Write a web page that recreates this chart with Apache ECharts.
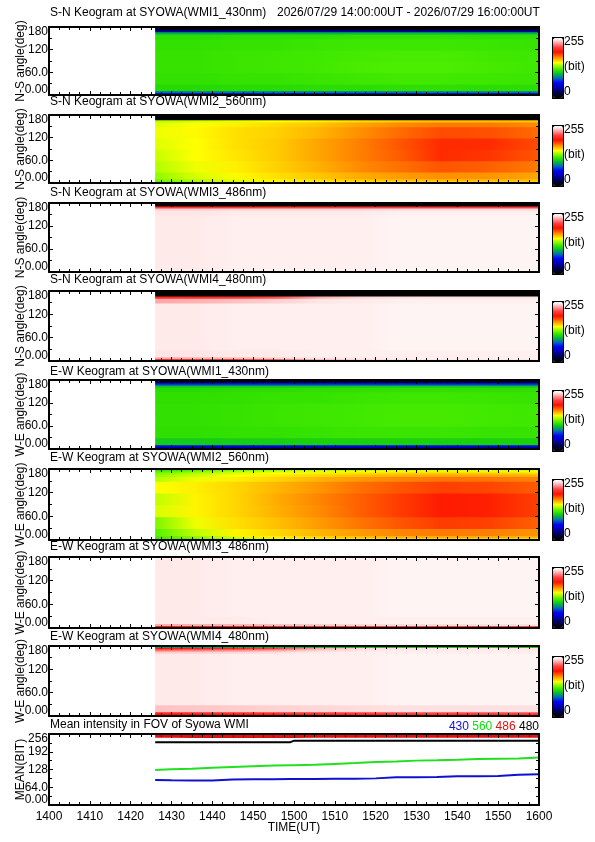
<!DOCTYPE html>
<html><head><meta charset="utf-8">
<script src="https://cdn.jsdelivr.net/npm/echarts@6/dist/echarts.min.js"></script>
<style>html,body{margin:0;padding:0;background:#fff}#c{width:595px;height:842px}</style>
</head><body><div id="c"></div>
<script>
// ---------- tick labels ----------
const xTickLabels = ['1400','1410','1420','1430','1440','1450','1500','1510','1520','1530','1540','1550','1600'];
const angleTickLabels = ['0.00','60.0','120','180'];
const meanTickLabels = ['0.00','64.0','128','192','256'];

// ---------- keogram sampling (minutes after 14:00 UT, angle band edges in deg) ----------
const timeSamples = [26, 36, 46, 56, 66, 76, 86, 96, 108, 120];
const angleEdges = [0, 3, 7, 12, 30, 60, 90, 120, 150, 162, 168, 173, 177, 180];

// each row = one angle band (bottom to top), values (bit) at timeSamples
const keoSN430 = [
  [28,28,28,28,28,28,28,28,28,28],
  [50,50,50,50,50,50,50,50,50,50],
  [85,85,86,86,86,86,86,86,86,86],
  [113,113,114,114,115,115,116,116,115,115],
  [117,117,118,118,119,120,121,121,120,119],
  [118,118,119,120,121,123,124,124,122,120],
  [118,118,119,120,121,122,123,123,121,120],
  [117,117,118,118,119,120,120,120,119,118],
  [115,115,116,116,116,117,117,117,116,116],
  [100,100,101,101,101,102,102,102,101,101],
  [45,45,45,45,45,45,45,45,45,45],
  [8,8,8,8,8,8,8,8,8,8],
  [0,0,0,0,0,0,0,0,0,0]
];
const keoSN560 = [
  [118,128,138,143,146,148,150,150,150,150],
  [125,135,143,148,152,155,156,157,158,157],
  [130,140,147,152,156,160,162,163,163,162],
  [135,145,151,156,161,166,169,171,170,167],
  [140,148,153,159,165,172,177,182,180,175],
  [143,150,155,160,167,174,181,190,188,182],
  [146,150,156,160,167,174,182,190,190,184],
  [148,151,156,159,164,171,178,184,183,178],
  [146,150,153,157,161,167,172,175,175,172],
  [140,144,147,150,153,157,160,162,162,161],
  [0,0,0,0,0,0,0,0,0,0],
  [0,0,0,0,0,0,0,0,0,0],
  [0,0,0,0,0,0,0,0,0,0]
];
const keoSN486 = [
  [248,248,249,249,249,249,250,250,250,250],
  [248,248,249,249,249,249,250,250,250,250],
  [248,248,249,249,249,249,250,250,250,250],
  [248,248,249,249,249,249,250,250,250,250],
  [248,248,249,249,249,249,250,250,250,250],
  [248,248,249,249,249,249,250,250,250,250],
  [248,248,249,249,249,249,250,250,250,250],
  [248,248,249,249,249,249,250,250,250,250],
  [247,247,248,248,248,248,249,249,249,249],
  [243,243,244,244,244,244,245,245,245,245],
  [212,212,212,213,213,214,214,214,214,214],
  [0,0,0,0,0,0,0,0,0,0],
  [0,0,0,0,0,0,0,0,0,0]
];
const keoSN480 = [
  [5,5,5,5,5,5,5,5,5,5],
  [210,212,215,222,238,245,247,248,248,248],
  [236,237,240,244,247,248,249,249,249,249],
  [247,247,248,248,249,249,249,249,249,249],
  [248,248,249,249,249,249,250,250,250,250],
  [248,248,249,249,249,249,250,250,250,250],
  [248,248,249,249,249,249,250,250,250,250],
  [248,248,249,249,249,249,250,250,250,250],
  [235,237,240,243,247,248,249,249,249,249],
  [205,207,210,218,236,244,246,247,247,247],
  [0,0,0,0,0,0,0,0,0,0],
  [0,0,0,0,0,0,0,0,0,0],
  [0,0,0,0,0,0,0,0,0,0]
];
const keoEW430 = [
  [25,25,25,25,25,25,25,25,25,25],
  [40,40,40,40,40,40,40,40,40,40],
  [62,62,62,62,62,62,62,62,62,62],
  [108,108,109,109,110,110,110,110,110,110],
  [116,116,117,117,118,119,119,119,118,118],
  [117,117,118,119,120,121,122,122,121,120],
  [117,117,118,119,120,121,122,122,121,120],
  [116,116,117,118,118,119,120,120,119,118],
  [114,114,115,115,116,116,117,117,116,116],
  [106,106,107,107,107,108,108,108,107,107],
  [75,75,75,75,75,75,75,75,75,75],
  [30,30,30,30,30,30,30,30,30,30],
  [10,10,10,10,10,10,10,10,10,10]
];
const keoEW560 = [
  [115,125,135,140,143,146,148,148,148,147],
  [118,130,140,147,152,155,157,158,158,156],
  [122,135,146,153,158,162,165,166,166,164],
  [126,142,152,158,164,169,173,175,174,170],
  [132,148,156,162,169,176,182,187,186,180],
  [145,152,158,165,172,180,187,193,192,186],
  [142,152,158,166,173,180,187,193,192,186],
  [150,153,158,164,170,177,182,186,185,181],
  [140,148,153,158,164,169,173,176,176,173],
  [136,144,150,154,158,162,165,167,167,165],
  [132,140,146,150,153,156,159,160,160,158],
  [125,133,140,144,147,149,151,152,152,150],
  [118,126,133,137,140,142,144,145,145,143]
];
const keoEW486 = [
  [140,140,141,142,142,143,143,143,143,143],
  [200,202,204,207,210,212,214,215,216,216],
  [236,237,238,240,242,244,245,245,246,246],
  [248,248,248,249,249,249,249,249,249,249],
  [248,248,249,249,249,249,250,250,250,250],
  [248,248,249,249,249,249,250,250,250,250],
  [248,248,249,249,249,249,250,250,250,250],
  [248,248,249,249,249,249,250,250,250,250],
  [248,248,249,249,249,249,250,250,250,250],
  [248,248,249,249,249,249,250,250,250,250],
  [248,248,249,249,249,249,250,250,250,250],
  [248,248,249,249,249,249,250,250,250,250],
  [248,248,249,249,249,249,250,250,250,250]
];
const keoEW480 = [
  [112,112,112,112,112,112,112,112,112,112],
  [195,196,198,200,202,204,205,206,206,206],
  [205,207,209,211,213,215,216,217,217,217],
  [240,241,242,243,244,245,246,246,246,246],
  [248,248,249,249,249,249,250,250,250,250],
  [248,248,249,249,249,249,250,250,250,250],
  [248,248,249,249,249,249,250,250,250,250],
  [248,248,249,249,249,249,250,250,250,250],
  [248,248,249,249,249,249,250,250,250,250],
  [242,243,244,246,248,249,249,249,249,249],
  [225,227,230,235,243,247,248,248,248,248],
  [200,202,206,215,235,244,246,247,247,247],
  [95,97,100,103,105,108,110,110,110,110]
];

// ---------- mean intensity in FOV ----------
const meanTimes = [26, 30, 35, 40, 45, 50, 55, 59, 60, 65, 70, 75, 80, 85, 90, 95, 100, 105, 110, 115, 120];
const mean430 = [90, 89, 88, 88, 92, 93, 93, 94, 94, 94, 95, 95, 96, 100, 100, 101, 104, 104, 105, 109, 111];
const mean560 = [126, 129, 131, 134, 137, 140, 142, 143, 143, 145, 148, 151, 155, 157, 160, 161, 163, 166, 167, 168, 171];
const mean486 = [248, 248, 247, 247, 247, 247, 247, 247, 247, 248, 248, 248, 248, 248, 248, 248, 248, 248, 248, 248, 248];
const mean480 = [226, 226, 226, 226, 226, 226, 226, 226, 232, 232, 232, 232, 232, 232, 232, 232, 232, 232, 232, 232, 232];

const panelTitles = [
  'S-N Keogram at SYOWA(WMI1_430nm)','S-N Keogram at SYOWA(WMI2_560nm)',
  'S-N Keogram at SYOWA(WMI3_486nm)','S-N Keogram at SYOWA(WMI4_480nm)',
  'E-W Keogram at SYOWA(WMI1_430nm)','E-W Keogram at SYOWA(WMI2_560nm)',
  'E-W Keogram at SYOWA(WMI3_486nm)','E-W Keogram at SYOWA(WMI4_480nm)',
  'Mean intensity in FOV of Syowa WMI'
];
const yNames = ['N-S angle(deg)','N-S angle(deg)','N-S angle(deg)','N-S angle(deg)',
  'W-E angle(deg)','W-E angle(deg)','W-E angle(deg)','W-E angle(deg)','MEAN(BIT)'];
const dateRange = '2026/07/29 14:00:00UT - 2026/07/29 16:00:00UT';

// ---------- layout ----------
const panelTop = [27, 115, 203, 291, 380, 469, 557, 646, 734];
const panelH = [68, 68, 69, 70, 69, 71, 71, 70, 71];
const titleY = [13, 102, 193, 280, 372, 458, 547, 637, 725];
const FONT = "'Liberation Sans', Arial, sans-serif";

// ---------- colour table (0..255 bit) ----------
const cmapStops = [[0,'#000000'],[20,'#000040'],[45,'#0000b0'],[65,'#0000ff'],[85,'#0070b0'],
  [100,'#00b050'],[112,'#20d800'],[125,'#50f000'],[140,'#b0ff00'],[150,'#ffff00'],[165,'#ffb000'],
  [180,'#ff6000'],[195,'#ff1000'],[215,'#ff4040'],[235,'#ffa8a8'],[250,'#fff4f4'],[255,'#ffffff']];
function hex(c){return [parseInt(c.substr(1,2),16),parseInt(c.substr(3,2),16),parseInt(c.substr(5,2),16)];}
function colorAt(v){
  v = Math.max(0, Math.min(255, v));
  for (let k=0;k<cmapStops.length-1;k++){
    const a=cmapStops[k], b=cmapStops[k+1];
    if (v<=b[0]){
      const f=(v-a[0])/(b[0]-a[0]); const ca=hex(a[1]), cb=hex(b[1]);
      return 'rgb('+[0,1,2].map(j=>Math.round(ca[j]+(cb[j]-ca[j])*f)).join(',')+')';
    }
  }
  return '#ffffff';
}
const cmapColors = []; for (let v=0; v<=255; v+=5) cmapColors.push(colorAt(v));

const keograms = [keoSN430, keoSN560, keoSN486, keoSN480, keoEW430, keoEW560, keoEW486, keoEW480];

function renderBand(params, api){
  const a0 = api.value(0), a1 = api.value(1);
  const t0 = timeSamples[0], tN = timeSamples[timeSamples.length-1];
  const pTop = api.coord([t0, a1]);
  const pBot = api.coord([tN, a0]);
  const stops = timeSamples.map((t,k)=>({offset:(t-t0)/(tN-t0), color: colorAt(api.value(2+k))}));
  return {type:'rect', silent:true,
    shape:{x:pTop[0], y:pTop[1], width:pBot[0]-pTop[0], height:(pBot[1]-pTop[1])+0.8},
    style:{fill:new echarts.graphic.LinearGradient(0,0,1,0,stops)}};
}

const grids=[], xAxes=[], yAxes=[], series=[], visualMaps=[], titles=[], graphics=[];
const axisLine = {show:true, onZero:false, lineStyle:{color:'#000', width:2}};
const tick = {show:true, inside:true, length:4, lineStyle:{color:'#000', width:1}};
const minor = n => ({show:true, splitNumber:n, length:3, lineStyle:{color:'#000', width:1}});
const txt = {fontSize:12, color:'#000', fontFamily:FONT};

for (let i=0;i<9;i++){
  const isLast = i===8;
  grids.push({left:49, width:490, top:panelTop[i], height:panelH[i], containLabel:false, outerBoundsMode:'none'});
  xAxes.push({gridIndex:i, type:'value', position:'bottom', min:0, max:120, interval:10, z:10,
    axisLine, axisTick:tick, minorTick:minor(4), splitLine:{show:false},
    axisLabel:Object.assign({show:isLast, margin:6, showMinLabel:true, showMaxLabel:true, hideOverlap:false,
      formatter:v=>xTickLabels[Math.round(v/10)]}, txt),
    name:isLast?'TIME(UT)':'', nameLocation:'middle', nameGap:17, nameMoveOverlap:false, nameTextStyle:txt});
  xAxes.push({gridIndex:i, type:'value', position:'top', min:0, max:120, interval:10, z:10,
    axisLine, axisTick:tick, minorTick:minor(4), splitLine:{show:false}, axisLabel:{show:false}});
  const ymax = isLast?256:180, yint = isLast?64:60, ylab = isLast?meanTickLabels:angleTickLabels;
  yAxes.push({gridIndex:i, type:'value', position:'left', min:0, max:ymax, interval:yint, z:10,
    axisLine, axisTick:tick, minorTick:minor(2), splitLine:{show:false},
    axisLabel:Object.assign({margin:1, lineHeight:10, showMinLabel:true, showMaxLabel:true, hideOverlap:false,
      formatter:v=>ylab[Math.round(v/yint)],
      verticalAlignMinLabel:'bottom', verticalAlignMaxLabel:'top'}, txt),
    name:yNames[i], nameLocation:'middle', nameGap:22, nameMoveOverlap:false, nameRotate:90, nameTextStyle:txt});
  yAxes.push({gridIndex:i, type:'value', position:'right', min:0, max:ymax, interval:yint, z:10,
    axisLine, axisTick:tick, minorTick:minor(2), splitLine:{show:false}, axisLabel:{show:false}});
  titles.push({text:panelTitles[i], left:50, top:titleY[i]-7, padding:0,
    textStyle:Object.assign({fontWeight:'normal', lineHeight:14}, txt)});
}
titles.push({text:dateRange, left:277, top:titleY[0]-7, padding:0,
  textStyle:Object.assign({fontWeight:'normal', lineHeight:14}, txt)});
titles.push({text:'{a|430} {b|560} {c|486} {d|480}', right:56, top:720, padding:0,
  textStyle:Object.assign({fontWeight:'normal', lineHeight:14, rich:{
    a:{color:'#1010d0', fontSize:12, fontFamily:FONT}, b:{color:'#10e010', fontSize:12, fontFamily:FONT},
    c:{color:'#e01010', fontSize:12, fontFamily:FONT}, d:{color:'#000', fontSize:12, fontFamily:FONT}}}, txt)});

keograms.forEach((rows, i)=>{
  series.push({type:'custom', xAxisIndex:2*i, yAxisIndex:2*i, renderItem:renderBand, silent:true,
    encode:{x:2, y:[0,1]}, clip:true, z:1,
    data: rows.map((r,b)=>[angleEdges[b], angleEdges[b+1]].concat(r))});
  const barTop = panelTop[i]+10;
  visualMaps.push({type:'continuous', min:0, max:255, seriesIndex:i, dimension:2,
    orient:'vertical', left:552, top:barTop, itemWidth:10, itemHeight:60,
    calculable:false, hoverLink:false, padding:0, borderColor:'#000', borderWidth:2,
    inRange:{color:cmapColors}});
  graphics.push({type:'text', x:564, y:barTop+5, style:{text:'255', verticalAlign:'middle', font:'12px '+FONT, fill:'#000'}});
  graphics.push({type:'text', x:564, y:barTop+30, style:{text:'(bit)', verticalAlign:'middle', font:'12px '+FONT, fill:'#000'}});
  graphics.push({type:'text', x:564, y:barTop+55, style:{text:'0', verticalAlign:'middle', font:'12px '+FONT, fill:'#000'}});
});

const meanSeries = [[mean430,'#1010d0'],[mean560,'#20e020'],[mean486,'#e01010'],[mean480,'#000000']];
meanSeries.forEach(([vals,col], k)=>{
  series.push({type:'line', xAxisIndex:16, yAxisIndex:16, showSymbol:false, silent:true,
    lineStyle:{color:col, width:k===2?3:2}, itemStyle:{color:col},
    data: meanTimes.map((t,j)=>[t, vals[j]])});
});

const chart = echarts.init(document.getElementById('c'), null, {renderer:'canvas'});
chart.setOption({animation:false, backgroundColor:'#fff', textStyle:{fontFamily:FONT},
  title:titles, grid:grids, xAxis:xAxes, yAxis:yAxes, visualMap:visualMaps, series, graphic:graphics});
</script></body></html>
